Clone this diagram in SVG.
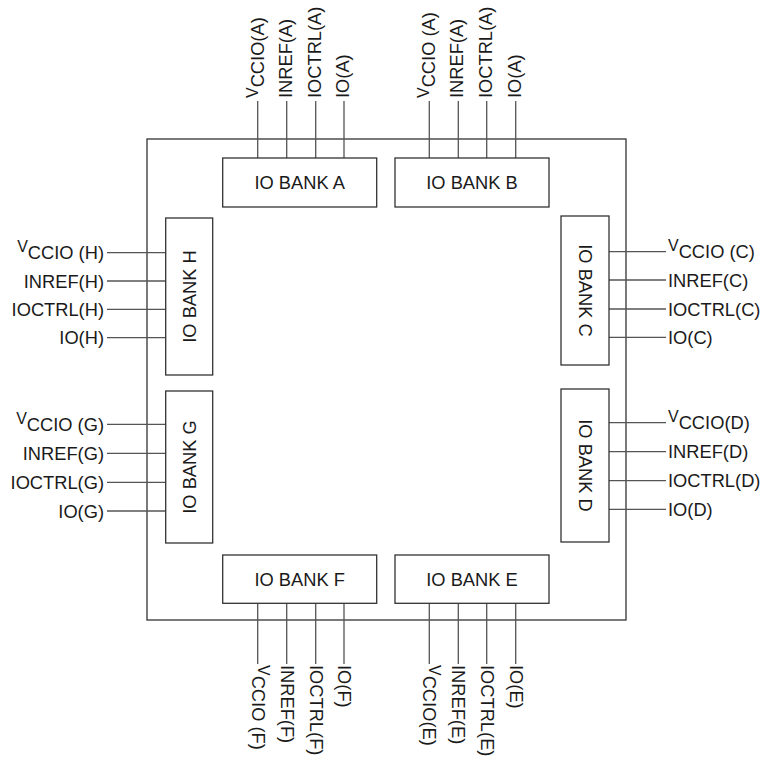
<svg xmlns="http://www.w3.org/2000/svg" width="764" height="758" viewBox="0 0 764 758">
<style>
text{font-family:"Liberation Sans",Arial,sans-serif;font-size:18.3px;fill:#1a1a1a}
.box{fill:#fff;stroke:#333;stroke-width:1.3}
.ln{stroke:#555;stroke-width:1.3;fill:none}
.v{font-size:16px}
.mid{text-anchor:middle}
.end{text-anchor:end}
</style>
<rect width="764" height="758" fill="#fff"/>
<rect id="chip" x="147" y="139" width="479" height="481" fill="none" stroke="#333" stroke-width="1.3"/>
<g id="connectors">
<path class="ln" d="M257.7 101V158M286.7 101V158M315.7 101V158M344 101V158"/>
<path class="ln" d="M429.3 101V158M458.3 101V158M486.7 101V158M515.7 101V158"/>
<path class="ln" d="M257.7 603V664M286.7 603V664M315.7 603V664M344 603V664"/>
<path class="ln" d="M429.3 603V664M458.3 603V664M486.7 603V664M515.7 603V664"/>
<path class="ln" d="M107 252.7H166M107 281H166M107 309.3H166M107 337.7H166"/>
<path class="ln" d="M107 424.3H166M107 453.3H166M107 482.3H166M107 511H166"/>
<path class="ln" d="M609 251.7H666M609 280H666M609 309H666M609 337.3H666"/>
<path class="ln" d="M609 422.7H666M609 451.7H666M609 480.7H666M609 509.3H666"/>
</g>
<g id="bankA">
<rect class="box" x="222.7" y="158" width="154" height="49"/>
<text class="mid" x="299.7" y="189">IO BANK A</text>
<text transform="translate(263.7,98) rotate(-90)"><tspan class="v" dy="-6">V</tspan><tspan dy="6">CCIO(A)</tspan></text>
<text transform="translate(291.7,98) rotate(-90)">INREF(A)</text>
<text transform="translate(320.7,98) rotate(-90)">IOCTRL(A)</text>
<text transform="translate(349,98) rotate(-90)">IO(A)</text>
</g>
<g id="bankB">
<rect class="box" x="395" y="158" width="154" height="49"/>
<text class="mid" x="472" y="189">IO BANK B</text>
<text transform="translate(435.3,98) rotate(-90)"><tspan class="v" dy="-6">V</tspan><tspan dy="6">CCIO (A)</tspan></text>
<text transform="translate(463.3,98) rotate(-90)">INREF(A)</text>
<text transform="translate(491.7,98) rotate(-90)">IOCTRL(A)</text>
<text transform="translate(520.7,98) rotate(-90)">IO(A)</text>
</g>
<g id="bankF">
<rect class="box" x="222.7" y="555" width="154" height="48.3"/>
<text class="mid" x="299.7" y="585.5">IO BANK F</text>
<text transform="translate(251.7,665) rotate(90)"><tspan class="v" dy="-6">V</tspan><tspan dy="6">CCIO (F)</tspan></text>
<text transform="translate(280.7,665) rotate(90)">INREF(F)</text>
<text transform="translate(309.7,665) rotate(90)">IOCTRL(F)</text>
<text transform="translate(338,665) rotate(90)">IO(F)</text>
</g>
<g id="bankE">
<rect class="box" x="395" y="555" width="154" height="48.3"/>
<text class="mid" x="472" y="585.5">IO BANK E</text>
<text transform="translate(423.3,665) rotate(90)"><tspan class="v" dy="-6">V</tspan><tspan dy="6">CCIO(E)</tspan></text>
<text transform="translate(452.3,665) rotate(90)">INREF(E)</text>
<text transform="translate(480.7,665) rotate(90)">IOCTRL(E)</text>
<text transform="translate(509.7,665) rotate(90)">IO(E)</text>
</g>
<g id="bankH">
<rect class="box" x="165.7" y="218" width="47" height="157"/>
<text class="mid" transform="translate(195.7,296.5) rotate(-90)">IO BANK H</text>
<text class="end" x="104" y="259.2"><tspan class="v" dy="-7">V</tspan><tspan dy="7">CCIO (H)</tspan></text>
<text class="end" x="104" y="287.5">INREF(H)</text>
<text class="end" x="104" y="315.8">IOCTRL(H)</text>
<text class="end" x="104" y="344.2">IO(H)</text>
</g>
<g id="bankG">
<rect class="box" x="165.7" y="391" width="47" height="152"/>
<text class="mid" transform="translate(195.7,467) rotate(-90)">IO BANK G</text>
<text class="end" x="104" y="430.8"><tspan class="v" dy="-7">V</tspan><tspan dy="7">CCIO (G)</tspan></text>
<text class="end" x="104" y="459.8">INREF(G)</text>
<text class="end" x="104" y="488.8">IOCTRL(G)</text>
<text class="end" x="104" y="517.5">IO(G)</text>
</g>
<g id="bankC">
<rect class="box" x="561" y="216" width="48" height="149"/>
<text class="mid" transform="translate(578.5,290.5) rotate(90)">IO BANK C</text>
<text x="668" y="258.2"><tspan class="v" dy="-7">V</tspan><tspan dy="7">CCIO (C)</tspan></text>
<text x="668" y="286.5">INREF(C)</text>
<text x="668" y="315.5">IOCTRL(C)</text>
<text x="668" y="343.8">IO(C)</text>
</g>
<g id="bankD">
<rect class="box" x="561" y="389" width="48" height="153"/>
<text class="mid" transform="translate(578.5,465.5) rotate(90)">IO BANK D</text>
<text x="668" y="429.2"><tspan class="v" dy="-7">V</tspan><tspan dy="7">CCIO(D)</tspan></text>
<text x="668" y="458.2">INREF(D)</text>
<text x="668" y="487.2">IOCTRL(D)</text>
<text x="668" y="515.8">IO(D)</text>
</g>
</svg>
